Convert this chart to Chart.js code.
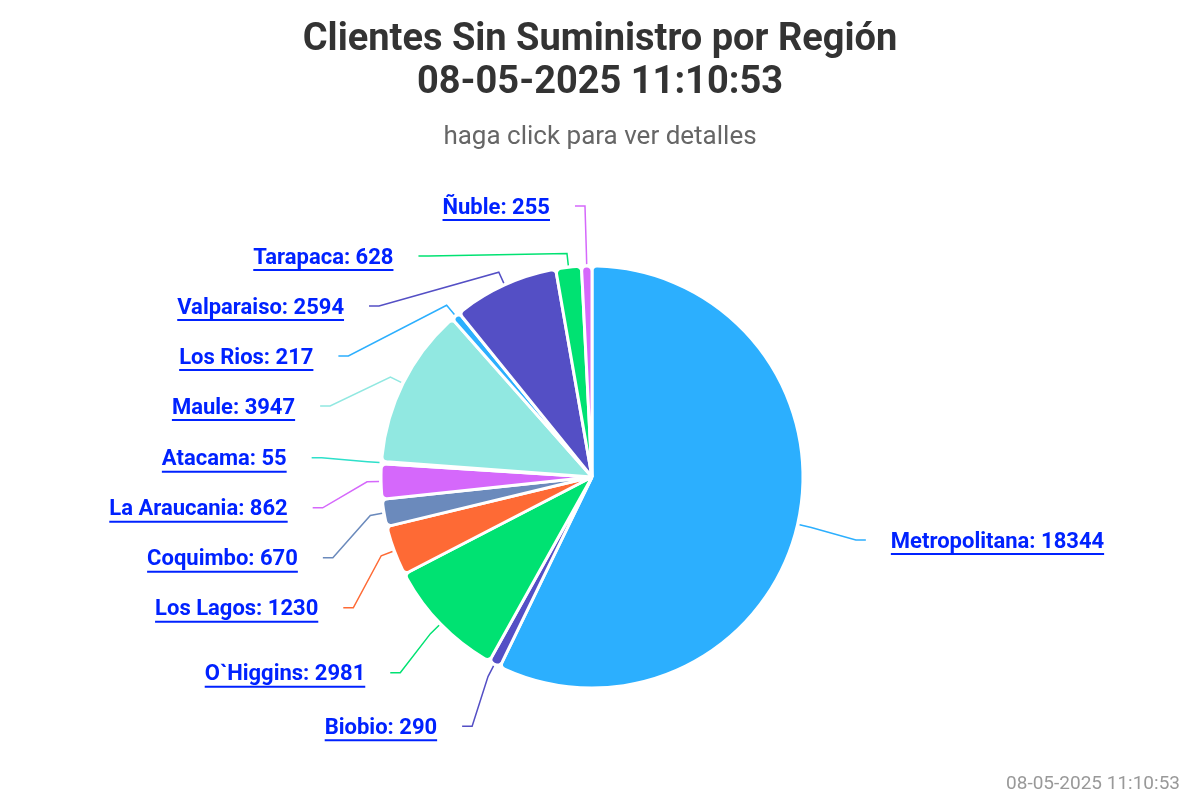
<!DOCTYPE html>
<html lang="es">
<head>
<meta charset="UTF-8">
<title>Clientes Sin Suministro por Región</title>
<script src="https://cdn.jsdelivr.net/npm/chart.js@4.4.1/dist/chart.umd.min.js"></script>
<style>
    html, body { margin: 0; padding: 0; background: #fff; }
    #wrap { width: 1200px; height: 800px; }
</style>
</head>
<body>
<div id="wrap"><canvas id="chart" width="1200" height="800"></canvas></div>
<script>
const regiones = ['Metropolitana', 'Biobio', 'O`Higgins', 'Los Lagos', 'Coquimbo', 'La Araucania', 'Atacama', 'Maule', 'Los Rios', 'Valparaiso', 'Tarapaca', 'Ñuble'];
const clientes = [18344, 290, 2981, 1230, 670, 862, 55, 3947, 217, 2594, 628, 255];
const colores = ['#2caffe', '#544fc5', '#00e272', '#fe6a35', '#6b8abc', '#d568fb', '#2ee0ca', '#91e8e1', '#2caffe', '#544fc5', '#00e272', '#d568fb'];
const titulo = ['Clientes Sin Suministro por Región', '08-05-2025 11:10:53'];
const subtitulo = 'haga click para ver detalles';
const credito = '08-05-2025 11:10:53';

const FUENTE = 'Roboto, "Liberation Sans", sans-serif';

// labels outside the pie, with crooked connector lines
const etiquetasFuera = {
    id: 'etiquetasFuera',
    afterLayout(chart) {
        // pie sits a little left of the page centre, titles stay centred
        chart.chartArea.right -= 16;
        chart.chartArea.width -= 16;
    },
    afterDatasetsDraw(chart) {
        const ctx = chart.ctx;
        const meta = chart.getDatasetMeta(0);
        const dist = 70, gap = 25, step = 50;
        const items = meta.data.map((arc, i) => {
            const a = (arc.startAngle + arc.endAngle) / 2;
            const r = arc.outerRadius;
            const R = r + dist;
            return {
                i, a, r, R, cx: arc.x, cy: arc.y,
                nx: arc.x + Math.cos(a) * R,
                ny: arc.y + Math.sin(a) * R,
                left: Math.cos(a) < 0
            };
        });

        [true, false].forEach(side => {
            const lista = items.filter(it => it.left === side).sort((p, q) => p.ny - q.ny);
            let prev = -Infinity;
            lista.forEach(it => {
                const tope = it.cy - it.R + 10;
                it.y = Math.max(it.ny, prev + step, tope);
                prev = it.y;
            });
        });

        items.forEach(it => {
            const s = it.left ? -1 : 1;
            const dy = it.y - it.cy;
            let x;
            if (Math.abs(dy) / it.R > 0.95) {
                x = it.nx + s * 10;
            } else {
                x = it.cx + s * Math.sqrt(Math.max(it.R * it.R - dy * dy, 0));
            }
            const bx = it.cx + Math.cos(it.a) * (it.r + 14);
            const by = it.cy + Math.sin(it.a) * (it.r + 14);
            const tx = it.cx + Math.cos(it.a) * (it.r + 2);
            const ty = it.cy + Math.sin(it.a) * (it.r + 2);

            ctx.save();
            ctx.strokeStyle = colores[it.i];
            ctx.lineWidth = 1.5;
            ctx.beginPath();
            ctx.moveTo(x, it.y);
            ctx.lineTo(x - s * 10, it.y);
            ctx.lineTo(bx, by);
            ctx.lineTo(tx, ty);
            ctx.stroke();

            const texto = regiones[it.i] + ': ' + clientes[it.i];
            const ty2 = it.y + 2;
            ctx.font = 'bold 22px ' + FUENTE;
            ctx.fillStyle = '#0022ff';
            ctx.textBaseline = 'middle';
            ctx.textAlign = it.left ? 'right' : 'left';
            const lx = x + s * gap;
            ctx.fillText(texto, lx, ty2);
            const w = ctx.measureText(texto).width;
            const x0 = it.left ? lx - w : lx;
            ctx.strokeStyle = '#0022ff';
            ctx.lineWidth = 2;
            ctx.beginPath();
            ctx.moveTo(x0, ty2 + 12);
            ctx.lineTo(x0 + w, ty2 + 12);
            ctx.stroke();
            ctx.restore();
        });
    },
    afterDraw(chart) {
        const ctx = chart.ctx;
        ctx.save();
        ctx.font = '19px ' + FUENTE;
        ctx.fillStyle = '#999999';
        ctx.textAlign = 'right';
        ctx.textBaseline = 'middle';
        ctx.fillText(credito, 1180, 784);
        ctx.restore();
    }
};

new Chart(document.getElementById('chart'), {
    type: 'pie',
    data: {
        labels: regiones,
        datasets: [{
            data: clientes,
            backgroundColor: colores,
            borderColor: '#ffffff',
            borderWidth: 3,
            borderRadius: 5,
            radius: 211
        }]
    },
    options: {
        responsive: false,
        animation: false,
        layout: { padding: { left: 0, right: 0, top: 0, bottom: 10 } },
        plugins: {
            legend: { display: false },
            title: {
                display: true,
                text: titulo,
                color: '#333333',
                font: { family: FUENTE, size: 38, weight: 'bold', lineHeight: 1.13 },
                padding: { top: 19, bottom: 9 }
            },
            subtitle: {
                display: true,
                text: subtitulo,
                color: '#666666',
                font: { family: FUENTE, size: 26, lineHeight: 1.2 },
                padding: { top: 8, bottom: 11 }
            }
        }
    },
    plugins: [etiquetasFuera]
});
</script>
</body>
</html>
